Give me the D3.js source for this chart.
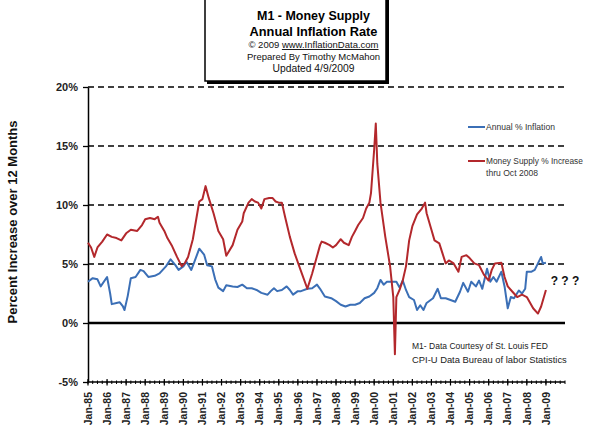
<!DOCTYPE html>
<html>
<head>
<meta charset="utf-8">
<script src="https://cdn.jsdelivr.net/npm/d3@7"></script>
<style>
  body { margin: 0; background: #fff; }
  svg { display: block; font-family: "Liberation Sans", Arial, sans-serif; }
</style>
</head>
<body>
<svg id="chart" width="600" height="435"></svg>
<script>
// Annual % inflation (CPI-U)
const inflationDates = [
  '1985-01','1985-04','1985-07','1985-09','1986-01','1986-03','1986-04','1986-07','1986-09','1986-11','1986-12',
  '1987-02','1987-04','1987-07','1987-10','1987-12','1988-03','1988-07','1988-10','1989-02','1989-05','1989-08',
  '1989-10','1990-01','1990-03','1990-06','1990-08','1990-11','1991-02','1991-04','1991-07','1991-09','1991-11',
  '1992-02','1992-04','1992-08','1992-11','1993-02','1993-05','1993-08','1993-11','1994-02','1994-06','1994-08',
  '1994-10','1994-12','1995-03','1995-06','1995-08','1995-10','1996-01','1996-03','1996-07','1996-10','1997-01',
  '1997-03','1997-06','1997-10','1998-01','1998-04','1998-07','1998-10','1999-01','1999-04','1999-07','1999-10',
  '2000-01','2000-03','2000-05','2000-07','2000-09','2001-01','2001-03','2001-05','2001-07','2001-09','2001-11',
  '2002-02','2002-04','2002-06','2002-08','2002-10','2003-02','2003-05','2003-07','2003-10','2004-01','2004-04',
  '2004-07','2004-09','2004-12','2005-02','2005-05','2005-07','2005-09','2005-12','2006-02','2006-04','2006-06',
  '2006-09','2006-11','2007-01','2007-03','2007-05','2007-08','2007-10','2007-12','2008-01','2008-04','2008-06',
  '2008-08','2008-10','2008-11','2009-01'
];
const inflationValues = [
  3.5, 3.8, 3.7, 3.1, 3.9, 2.5, 1.6, 1.7, 1.75, 1.4, 1.1,
  2.3, 3.8, 3.9, 4.5, 4.4, 3.9, 4.0, 4.2, 4.8, 5.4, 4.9,
  4.5, 4.8, 5.2, 4.5, 5.2, 6.3, 5.8, 4.9, 4.8, 3.7, 3.0,
  2.7, 3.2, 3.1, 3.05, 3.25, 2.95, 2.95, 2.8, 2.55, 2.4, 2.7,
  2.95, 2.7, 2.8, 3.1, 2.8, 2.4, 2.7, 2.7, 2.9, 2.95, 3.25,
  2.9, 2.25, 2.1, 1.85, 1.55, 1.4, 1.55, 1.55, 1.7, 2.1, 2.25,
  2.55, 2.95, 3.65, 3.25, 3.5, 3.5, 3.5, 3.0, 3.6, 2.8, 2.2,
  1.95, 1.1, 1.5, 1.1, 1.7, 2.1, 2.9, 2.1, 2.1, 1.95, 1.8,
  2.65, 3.4, 2.65, 3.5, 3.1, 3.6, 2.9, 4.6, 3.5, 3.9, 3.5,
  4.35, 3.1, 1.25, 2.2, 2.1, 2.75, 2.5, 2.9, 4.35, 4.35, 4.5,
  5.05, 5.6, 5.05, 5.1
];

// M1 money supply % increase over 12 months
const moneyDates = [
  '1985-01','1985-03','1985-05','1985-07','1985-10','1986-01','1986-04','1986-07','1986-10','1987-01','1987-04',
  '1987-08','1987-11','1988-01','1988-04','1988-07','1988-09','1988-10','1989-01','1989-03','1989-06','1989-09',
  '1989-12','1990-02','1990-04','1990-07','1990-11','1991-01','1991-03','1991-05','1991-08','1991-11','1992-02',
  '1992-04','1992-08','1992-11','1993-02','1993-03','1993-06','1993-08','1993-10','1993-12','1994-02','1994-04',
  '1994-07','1994-09','1994-11','1995-01','1995-03','1995-05','1995-08','1995-11','1996-03','1996-07','1996-10',
  '1997-01','1997-03','1997-04','1997-06','1997-09','1997-11','1998-01','1998-04','1998-06','1998-09','1998-11',
  '1999-01','1999-03','1999-06','1999-08','1999-10','1999-11','2000-01','2000-02','2000-03','2000-05','2000-08',
  '2000-11','2001-01','2001-02','2001-03','2001-05','2001-07','2001-09','2001-11','2002-01','2002-04','2002-07',
  '2002-09','2002-10','2003-01','2003-03','2003-06','2003-08','2003-10','2003-12','2004-03','2004-06','2004-08',
  '2004-11','2005-01','2005-04','2005-07','2005-10','2006-01','2006-03','2006-05','2006-09','2006-11','2007-01',
  '2007-04','2007-07','2007-10','2008-01','2008-05','2008-08','2008-10','2009-01'
];
const moneyValues = [
  6.8, 6.4, 5.6, 6.4, 6.9, 7.5, 7.3, 7.2, 7.0, 7.6, 7.9,
  7.8, 8.3, 8.8, 8.9, 8.8, 9.0, 8.5, 7.8, 7.2, 6.5, 5.6,
  4.8, 5.1, 5.6, 7.1, 10.3, 10.5, 11.6, 10.6, 9.3, 7.8, 7.1,
  5.7, 6.6, 7.9, 8.6, 9.3, 10.2, 10.5, 10.3, 10.2, 9.7, 10.5,
  10.6, 10.6, 10.3, 10.2, 10.2, 9.0, 7.3, 5.9, 4.4, 2.9, 4.2,
  5.65, 6.6, 6.9, 6.8, 6.6, 6.4, 6.6, 7.1, 6.8, 6.6, 7.3,
  7.8, 8.3, 8.9, 9.7, 10.2, 11.0, 14.7, 16.9, 13.5, 10.2, 7.3,
  4.8, 2.2, -2.65, 2.2, 2.8, 3.6, 4.8, 7.0, 8.2, 9.2, 9.7,
  10.2, 9.3, 7.9, 7.0, 6.75, 5.9, 5.05, 5.3, 5.05, 4.35, 5.6,
  5.75, 5.5, 5.05, 4.9, 4.1, 3.6, 4.5, 5.05, 5.1, 3.9, 3.1,
  2.65, 2.2, 2.4, 2.2, 1.25, 0.8, 1.4, 2.8
];

const yTicks = [-5, 0, 5, 10, 15, 20];
const gridTicks = [5, 10, 15, 20];
const titleLines = ['M1 - Money Supply', 'Annual Inflation Rate'];
const sourceLines = ['M1- Data Courtesy of  St. Louis FED', 'CPI-U  Data  Bureau of labor Statistics'];

const parse = d3.timeParse('%Y-%m');
const inflation = inflationDates.map((d, i) => ({ date: parse(d), v: inflationValues[i] }));
const money = moneyDates.map((d, i) => ({ date: parse(d), v: moneyValues[i] }));

const svg = d3.select('#chart');
const x = d3.scaleTime().domain([new Date(1985, 0, 1), new Date(2010, 0, 1)]).range([88, 565]);
const y = d3.scaleLinear().domain([-5, 20]).range([382, 87]);

// shrink or grow a text until it covers the width seen in the picture
function fit(sel, w) {
  const len = sel.node().getComputedTextLength();
  const fs = parseFloat(sel.attr('font-size'));
  sel.attr('font-size', (fs * w / len).toFixed(2));
}

// dashed grid and the heavy zero line
svg.append('g')
  .selectAll('line')
  .data(gridTicks)
  .join('line')
  .attr('x1', x.range()[0]).attr('x2', x.range()[1])
  .attr('y1', (d) => y(d)).attr('y2', (d) => y(d))
  .attr('stroke', '#000').attr('stroke-width', 1.6).attr('stroke-dasharray', '6,4');

svg.append('line')
  .attr('x1', x.range()[0]).attr('x2', x.range()[1])
  .attr('y1', y(0)).attr('y2', y(0))
  .attr('stroke', '#000').attr('stroke-width', 2.6);

// y axis
const yAxis = svg.append('g')
  .attr('transform', `translate(${x.range()[0]},0)`)
  .call(d3.axisLeft(y).tickValues(yTicks).tickFormat((d) => d + '%').tickSize(5).tickPadding(5).tickSizeOuter(0));
yAxis.select('.domain').attr('stroke', '#000').attr('stroke-width', 1.5);
yAxis.selectAll('.tick line').attr('stroke', '#000').attr('stroke-width', 1.3);
yAxis.selectAll('text')
  .attr('font-size', 11).attr('font-weight', 'bold').attr('fill', '#222')
  .attr('font-family', '"Liberation Sans", Arial, sans-serif');

// x axis: yearly labels, quarterly minor ticks
const years = d3.timeYear.range(new Date(1985, 0, 1), new Date(2009, 1, 1));
const quarters = d3.timeMonth.every(3).range(new Date(1985, 0, 1), new Date(2010, 0, 2));
const xg = svg.append('g').attr('transform', `translate(0,${y(-5)})`);
xg.append('line')
  .attr('x1', x.range()[0]).attr('x2', x.range()[1])
  .attr('stroke', '#000').attr('stroke-width', 1.5);
xg.selectAll('line.minor')
  .data(quarters)
  .join('line')
  .attr('class', 'minor')
  .attr('x1', (d) => x(d)).attr('x2', (d) => x(d))
  .attr('y1', -1.5).attr('y2', 2)
  .attr('stroke', '#000').attr('stroke-width', 1);
xg.selectAll('line.major')
  .data(years)
  .join('line')
  .attr('class', 'major')
  .attr('x1', (d) => x(d)).attr('x2', (d) => x(d))
  .attr('y1', -3).attr('y2', 3.5)
  .attr('stroke', '#000').attr('stroke-width', 1.2);
xg.selectAll('text')
  .data(years)
  .join('text')
  .attr('transform', (d) => `translate(${x(d)},10) rotate(-90)`)
  .attr('dy', '0.35em')
  .attr('text-anchor', 'end')
  .attr('font-size', 10.5).attr('font-weight', 'bold').attr('fill', '#222')
  .text(d3.timeFormat('%b-%y'));

// y axis title
svg.append('text')
  .attr('transform', 'translate(17,222) rotate(-90)')
  .attr('text-anchor', 'middle')
  .attr('font-size', 13).attr('font-weight', 'bold').attr('fill', '#111')
  .text('Percent Increase over 12 Months')
  .call(fit, 203);

// the two series
const line = d3.line().x((d) => x(d.date)).y((d) => y(d.v));
svg.append('path').datum(inflation)
  .attr('d', line).attr('fill', 'none')
  .attr('stroke', '#3b6fb6').attr('stroke-width', 2).attr('stroke-linejoin', 'round');
svg.append('path').datum(money)
  .attr('d', line).attr('fill', 'none')
  .attr('stroke', '#b3282c').attr('stroke-width', 2).attr('stroke-linejoin', 'round');

// legend
const legend = [
  { color: '#3b6fb6', lines: ['Annual % Inflation'], y: 127, w: [69] },
  { color: '#b3282c', lines: ['Money Supply % Increase', 'thru Oct 2008'], y: 161, w: [97, 52] }
];
legend.forEach((item) => {
  svg.append('line')
    .attr('x1', 468).attr('x2', 485).attr('y1', item.y).attr('y2', item.y)
    .attr('stroke', item.color).attr('stroke-width', 2);
  item.lines.forEach((t, i) => {
    svg.append('text')
      .attr('x', 486).attr('y', item.y + 3 + i * 12)
      .attr('font-size', 9).attr('fill', '#333')
      .text(t)
      .call(fit, item.w[i]);
  });
});

// source notes and the question marks
sourceLines.forEach((t, i) => {
  svg.append('text')
    .attr('x', 412).attr('y', 349 + i * 14)
    .attr('font-size', 10).attr('fill', '#222')
    .text(t)
    .call(fit, i === 0 ? 136 : 155);
});
svg.append('text')
  .attr('x', 565).attr('y', 285)
  .attr('text-anchor', 'middle')
  .attr('font-size', 12).attr('font-weight', 'bold').attr('fill', '#111')
  .text('? ? ?');

// title box
svg.append('rect').attr('x', 207).attr('y', -3).attr('width', 182).attr('height', 87).attr('fill', '#000');
svg.append('rect').attr('x', 205).attr('y', -5).attr('width', 181).attr('height', 86)
  .attr('fill', '#fff').attr('stroke', '#000').attr('stroke-width', 1.5);

const cx = 313.5;
titleLines.forEach((t, i) => {
  svg.append('text')
    .attr('x', cx).attr('y', 20 + i * 16)
    .attr('text-anchor', 'middle')
    .attr('font-size', 14).attr('font-weight', 'bold').attr('fill', '#000')
    .text(t)
    .call(fit, i === 0 ? 113 : 128);
});
const copy = svg.append('text')
  .attr('x', cx).attr('y', 48)
  .attr('text-anchor', 'middle')
  .attr('font-size', 9).attr('fill', '#111');
copy.append('tspan').text('© 2009  ');
copy.append('tspan').attr('text-decoration', 'underline').text('www.InflationData.com');
copy.call(fit, 130);
svg.append('text')
  .attr('x', cx).attr('y', 60)
  .attr('text-anchor', 'middle')
  .attr('font-size', 9).attr('fill', '#111')
  .text('Prepared By Timothy McMahon')
  .call(fit, 133);
svg.append('text')
  .attr('x', cx).attr('y', 72)
  .attr('text-anchor', 'middle')
  .attr('font-size', 9).attr('fill', '#111')
  .text('Updated 4/9/2009')
  .call(fit, 82);
</script>
</body>
</html>
